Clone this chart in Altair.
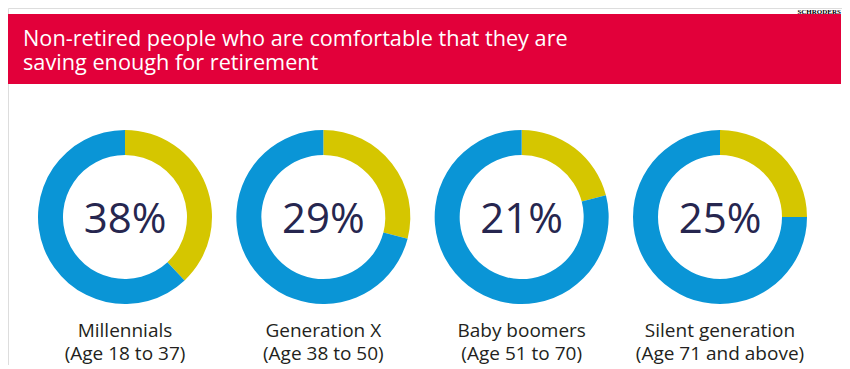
import altair as alt
import pandas as pd

# ---- data ----
generations = ["Millennials", "Generation X", "Baby boomers", "Silent generation"]
age_ranges = ["(Age 18 to 37)", "(Age 38 to 50)", "(Age 51 to 70)", "(Age 71 and above)"]
comfortable_pct = [38, 29, 21, 25]
segment_names = ["Comfortable", "Not comfortable"]
title_lines = [
    "Non-retired people who are comfortable that they are",
    "saving enough for retirement",
]
source_label = "SCHRODERS"

# ---- tables built from the arrays ----
rows = []
for g, v in zip(generations, comfortable_pct):
    rows.append({"generation": g, "segment": segment_names[0], "start": 0, "end": v})
    rows.append({"generation": g, "segment": segment_names[1], "start": v, "end": 100})
arcs_df = pd.DataFrame(rows)
labels_df = pd.DataFrame(
    {
        "generation": generations,
        "age": age_ranges,
        "pct": [f"{v}%" for v in comfortable_pct],
    }
)
one = pd.DataFrame({"k": [0]})

W, H = 834, 357
RED = "#e2003a"
BLUE = "#0a95d6"
YELLOW = "#d5c600"
NAVY = "#26264f"
DARK = "#231f20"

xscale = alt.Scale(type="point", domain=generations, range=[117, 712], padding=0)
X = alt.X("generation:N", scale=xscale, axis=None)

banner = alt.Chart(one).mark_rect(color=RED).encode(
    x=alt.value(0), x2=alt.value(833), y=alt.value(6), y2=alt.value(76)
)

title_layers = [
    alt.Chart(one)
    .mark_text(
        align="left", baseline="alphabetic", font="Open Sans", fontSize=21.7, color="white"
    )
    .encode(x=alt.value(15), y=alt.value(38 + 24 * i), text=alt.value(line))
    for i, line in enumerate(title_lines)
]

source = alt.Chart(one).mark_text(
    align="right", baseline="top", font="Liberation Serif", fontWeight="bold",
    fontSize=7, color="black"
).encode(x=alt.value(833), y=alt.value(0), text=alt.value(source_label))

arcs = alt.Chart(arcs_df).mark_arc(outerRadius=87, innerRadius=62).encode(
    x=X,
    y=alt.value(209),
    theta=alt.Theta("start:Q", scale=alt.Scale(domain=[0, 100])),
    theta2="end:Q",
    color=alt.Color(
        "segment:N",
        scale=alt.Scale(domain=segment_names, range=[YELLOW, BLUE]),
        legend=None,
    ),
)

pct_text = alt.Chart(labels_df).mark_text(
    font="Open Sans", fontSize=42, color=NAVY, baseline="alphabetic"
).encode(x=X, y=alt.value(225), text="pct:N")

name_text = alt.Chart(labels_df).mark_text(
    font="Open Sans", fontSize=19, color=DARK, baseline="alphabetic"
).encode(x=X, y=alt.value(329), text="generation:N")

age_text = alt.Chart(labels_df).mark_text(
    font="Open Sans", fontSize=19, color=DARK, baseline="alphabetic"
).encode(x=X, y=alt.value(352), text="age:N")

chart = (
    alt.layer(banner, *title_layers, source, arcs, pct_text, name_text, age_text)
    .properties(width=W, height=H, autosize=alt.AutoSizeParams(type="none"), padding=0)
    .configure_view(stroke=None)
    .configure(background="white")
)

chart.save("out.html", embed_options={"renderer": "svg", "actions": False})
